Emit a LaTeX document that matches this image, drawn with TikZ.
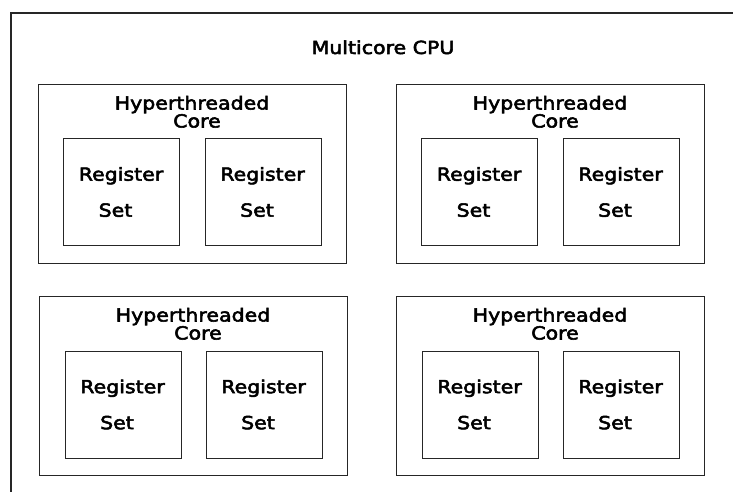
\documentclass[tikz,border=0pt]{standalone}
\usepackage{fontspec}
\setmainfont{DejaVu Sans}
\newfontfamily\lblfont[FakeStretch=1.14, FakeBold=3]{DejaVu Sans}
\tikzset{
  frameline/.style={draw=black!85, line width=1.2pt},
  corebox/.style={draw=black!85, line width=1pt, minimum width=308pt, minimum height=179pt, inner sep=0pt},
  regbox/.style={draw=black!85, line width=1pt, minimum width=116pt, minimum height=107pt, inner sep=0pt},
  lbl/.style={inner sep=0pt, anchor=base, font=\lblfont\fontsize{18}{21}\selectfont, text=black},
}
\begin{document}
\begin{tikzpicture}[x=1pt,y=1pt]
\useasboundingbox (0,0) rectangle (733,492);
% outer frame (only top and left edges visible)
\coordinate (ftr) at (733,479);
\coordinate (ftl) at (11,479);
\coordinate (fbl) at (11,0);
\draw[frameline] (ftr) -- (ftl) -- (fbl);
\node[lbl] (title) at (383,438) {Multicore CPU};
% cores: centers
\foreach \n/\cx/\cy in {a/192/317.5, b/550/317.5, c/193/105.5, d/550/105.5}{
  \node[corebox] (core\n) at (\cx,\cy) {};
}
% register boxes
\foreach \n/\cx/\cy in {a1/121.5/299.5, a2/263/299.5, b1/479.5/299.5, b2/621/299.5,
                        c1/123/87, c2/264/87, d1/480/87, d2/621/87}{
  \node[regbox] (reg\n) at (\cx,\cy) {};
  \node[lbl] (regt\n) at ([xshift=-0.5pt,yshift=11.8pt]reg\n.center) {Register};
  \node[lbl] (sett\n) at ([xshift=-6pt,yshift=-24.2pt]reg\n.center) {Set};
}
\foreach \n in {a,b,c,d}{
  \node[lbl, text depth=0pt] (hyp\n) at ([yshift=65pt]core\n.center) {Hyperthreaded};
  \node[lbl] (cor\n) at ([xshift=5pt,yshift=47pt]core\n.center) {Core};
}
\end{tikzpicture}
\end{document}
